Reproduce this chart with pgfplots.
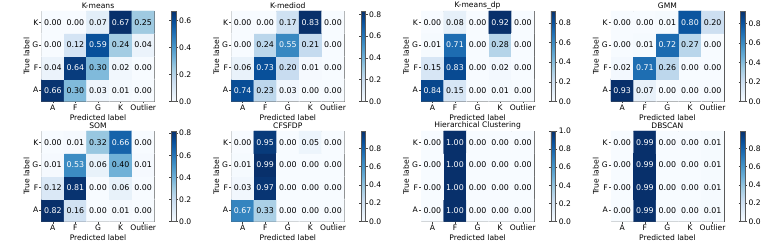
\documentclass[border=0pt]{standalone}
\usepackage{pgfplots}
\pgfplotsset{compat=1.18}
\usepackage{fontspec}
\setmainfont{DejaVu Sans}
\pgfplotsset{
  colormap={blues}{rgb255=(247,251,255) rgb255=(222,235,247) rgb255=(198,219,239) rgb255=(158,202,225) rgb255=(107,174,214) rgb255=(66,146,198) rgb255=(33,113,181) rgb255=(8,81,156) rgb255=(8,48,107)},
  every axis/.append style={font=\fontsize{7.6}{8.5}\selectfont, /pgf/number format/assume math mode=true},
  every axis title shift=0pt,
  cm/.style={
    scale only axis, width=113pt, height=90.5pt,
    enlargelimits=false,
    xmin=-0.5, xmax=4.5, ymin=-0.5, ymax=3.5,
    xtick={0,1,2,3,4}, xticklabels={A,F,G,K,Outlier},
    ytick={0,1,2,3}, yticklabels={A,F,G,K},
    tick align=outside, xtick pos=bottom, ytick pos=left,
    major tick length=2pt,
    xticklabel style={inner sep=1pt},
    yticklabel style={inner sep=1pt},
    axis line style={black!65, line width=0.5pt},
    tick style={black!75, line width=0.5pt},
    xlabel={Predicted label}, ylabel={True label},
    title style={at={(axis description cs:0.5,1.061)}, anchor=center, inner sep=0pt},
    xlabel style={at={(axis description cs:0.5,-0.175)}, anchor=center, inner sep=0pt},
    ylabel style={at={(axis description cs:-0.133,0.5)}, anchor=center, inner sep=0pt},
    colormap name=blues,
    point meta min=0,
    colorbar,
    colorbar style={
      at={(parent axis.north east)}, anchor=north west, xshift=8.3pt,
      width=4.5pt,
      tick align=outside, major tick length=2pt,
      yticklabel style={inner sep=1.2pt},
      axis line style={black!65, line width=0.5pt},
      tick style={black!75, line width=0.5pt},
      yticklabel style={/pgf/number format/.cd, fixed, fixed zerofill, precision=1},
    },
  },
}
\newcommand{\panel}[7]{%
\begin{axis}[cm, at={(#1pt,#2pt)}, anchor=north west, title={#3},
  point meta max=#4, colorbar style={ytick={#5}}]
\addplot[matrix plot*, mesh/cols=5, point meta=explicit] coordinates {#6};
\addplot[only marks, mark=none, point meta=explicit,
  nodes near coords={\ifdim\pgfplotspointmetatransformed pt>500pt\color{white}\fi\pgfmathprintnumber[fixed,fixed zerofill,precision=2]{\pgfplotspointmeta}},
  nodes near coords align=center,
  every node near coord/.append style={anchor=center, inner sep=0pt, font=\fontsize{#7}{8}\selectfont, text=black}]
  coordinates {#6};
\end{axis}}
\begin{document}
\begin{tikzpicture}
\useasboundingbox (0,0) rectangle (761pt,-245pt);
% K-means
\panel{41.5}{-11}{K-means}{0.67}{0,0.2,0.4,0.6}{
(0,0)[0.66] (1,0)[0.30] (2,0)[0.03] (3,0)[0.01] (4,0)[0.00]
(0,1)[0.04] (1,1)[0.64] (2,1)[0.30] (3,1)[0.02] (4,1)[0.00]
(0,2)[0.00] (1,2)[0.12] (2,2)[0.59] (3,2)[0.24] (4,2)[0.04]
(0,3)[0.00] (1,3)[0.00] (2,3)[0.07] (3,3)[0.67] (4,3)[0.25]}{7.9}
% K-mediod
\panel{231.3}{-11}{K-mediod}{0.83}{0,0.2,0.4,0.6,0.8}{
(0,0)[0.74] (1,0)[0.23] (2,0)[0.03] (3,0)[0.00] (4,0)[0.00]
(0,1)[0.06] (1,1)[0.73] (2,1)[0.20] (3,1)[0.01] (4,1)[0.00]
(0,2)[0.00] (1,2)[0.24] (2,2)[0.55] (3,2)[0.21] (4,2)[0.00]
(0,3)[0.00] (1,3)[0.00] (2,3)[0.17] (3,3)[0.83] (4,3)[0.00]}{7.9}
% K-means_dp
\panel{421.1}{-11}{K-means\_dp}{0.92}{0,0.2,0.4,0.6,0.8}{
(0,0)[0.84] (1,0)[0.15] (2,0)[0.00] (3,0)[0.01] (4,0)[0.00]
(0,1)[0.15] (1,1)[0.83] (2,1)[0.00] (3,1)[0.02] (4,1)[0.00]
(0,2)[0.01] (1,2)[0.71] (2,2)[0.00] (3,2)[0.28] (4,2)[0.00]
(0,3)[0.00] (1,3)[0.08] (2,3)[0.00] (3,3)[0.92] (4,3)[0.00]}{7.9}
% GMM
\panel{610.9}{-11}{GMM}{0.93}{0,0.2,0.4,0.6,0.8}{
(0,0)[0.93] (1,0)[0.07] (2,0)[0.00] (3,0)[0.00] (4,0)[0.00]
(0,1)[0.02] (1,1)[0.71] (2,1)[0.26] (3,1)[0.00] (4,1)[0.00]
(0,2)[0.00] (1,2)[0.01] (2,2)[0.72] (3,2)[0.27] (4,2)[0.00]
(0,3)[0.00] (1,3)[0.00] (2,3)[0.01] (3,3)[0.80] (4,3)[0.20]}{7.9}
% SOM
\panel{41.5}{-131}{SOM}{0.82}{0,0.2,0.4,0.6,0.8}{
(0,0)[0.82] (1,0)[0.16] (2,0)[0.00] (3,0)[0.01] (4,0)[0.00]
(0,1)[0.12] (1,1)[0.81] (2,1)[0.00] (3,1)[0.06] (4,1)[0.00]
(0,2)[0.01] (1,2)[0.53] (2,2)[0.06] (3,2)[0.40] (4,2)[0.01]
(0,3)[0.00] (1,3)[0.01] (2,3)[0.32] (3,3)[0.66] (4,3)[0.00]}{7.9}
% CFSFDP
\panel{231.3}{-131}{CFSFDP}{0.99}{0,0.2,0.4,0.6,0.8}{
(0,0)[0.67] (1,0)[0.33] (2,0)[0.00] (3,0)[0.00] (4,0)[0.00]
(0,1)[0.03] (1,1)[0.97] (2,1)[0.00] (3,1)[0.00] (4,1)[0.00]
(0,2)[0.01] (1,2)[0.99] (2,2)[0.00] (3,2)[0.00] (4,2)[0.00]
(0,3)[0.00] (1,3)[0.95] (2,3)[0.00] (3,3)[0.05] (4,3)[0.00]}{7.9}
% Hierarchical
\panel{421.1}{-131}{Hierarchical Clustering}{1.0}{0,0.2,0.4,0.6,0.8,1.0}{
(0,0)[0.00] (1,0)[1.00] (2,0)[0.00] (3,0)[0.00] (4,0)[0.00]
(0,1)[0.00] (1,1)[1.00] (2,1)[0.00] (3,1)[0.00] (4,1)[0.00]
(0,2)[0.00] (1,2)[1.00] (2,2)[0.00] (3,2)[0.00] (4,2)[0.00]
(0,3)[0.00] (1,3)[1.00] (2,3)[0.00] (3,3)[0.00] (4,3)[0.00]}{7.9}
% DBSCAN
\panel{610.9}{-131}{DBSCAN}{0.99}{0,0.2,0.4,0.6,0.8}{
(0,0)[0.00] (1,0)[0.99] (2,0)[0.00] (3,0)[0.00] (4,0)[0.01]
(0,1)[0.00] (1,1)[0.99] (2,1)[0.00] (3,1)[0.00] (4,1)[0.01]
(0,2)[0.00] (1,2)[0.99] (2,2)[0.00] (3,2)[0.00] (4,2)[0.01]
(0,3)[0.00] (1,3)[0.99] (2,3)[0.00] (3,3)[0.00] (4,3)[0.01]}{7.9}
\end{tikzpicture}
\end{document}
